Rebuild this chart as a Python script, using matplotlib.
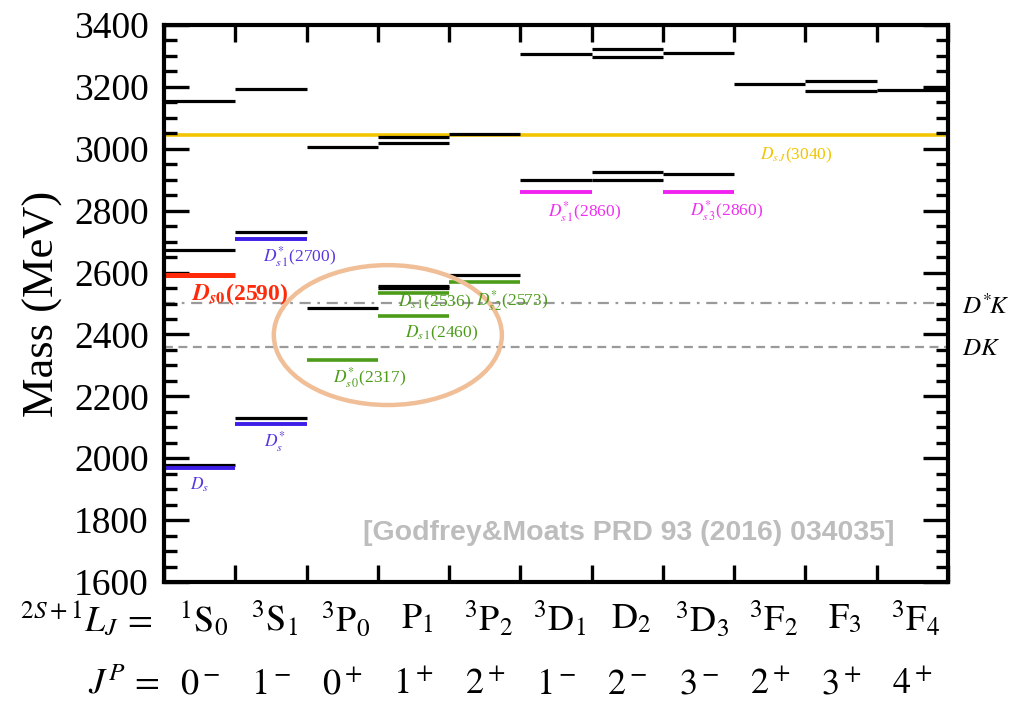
import numpy as np
import matplotlib
matplotlib.use("Agg")
import matplotlib.pyplot as plt
from matplotlib.patches import Ellipse
from matplotlib.ticker import MultipleLocator

plt.rcParams['font.family'] = ['Liberation Serif', 'DejaVu Serif']
plt.rcParams['mathtext.fontset'] = 'stix'

#########################################################################
#  Data
#########################################################################
# spectroscopic labels of the 11 columns
lj_labels = [r'$^1\mathrm{S}_0$', r'$^3\mathrm{S}_1$', r'$^3\mathrm{P}_0$', r'$\mathrm{P}_1$',
             r'$^3\mathrm{P}_2$', r'$^3\mathrm{D}_1$', r'$\mathrm{D}_2$', r'$^3\mathrm{D}_3$',
             r'$^3\mathrm{F}_2$', r'$\mathrm{F}_3$', r'$^3\mathrm{F}_4$']
jp_labels = [r'$0^-$', r'$1^-$', r'$0^+$', r'$1^+$', r'$2^+$', r'$1^-$',
             r'$2^-$', r'$3^-$', r'$2^+$', r'$3^+$', r'$4^+$']

# quark model predictions (MeV), one list per column
pred_levels = [
    [1979, 2673, 3154],
    [2129, 2732, 3193],
    [2484, 3005],
    [2549, 2556, 3018, 3038],
    [2592, 3049],
    [2899, 3306],
    [2900, 2926, 3298, 3323],
    [2917, 3311],
    [3208],
    [3186, 3218],
    [3190],
]

# observed states (MeV)
exp_col = [0, 1, 1, 0, 2, 3, 3, 4, 5, 7]
exp_mass = [1968, 2112, 2708, 2591, 2318, 2460, 2535, 2569, 2859, 2860]
exp_color = ['#3c1ee6', '#3c1ee6', '#3c1ee6', '#ff2a0a', '#4c9c1a', '#4c9c1a',
             '#4c9c1a', '#4c9c1a', '#f022f0', '#f022f0']
exp_lw = [2.8, 2.8, 2.8, 3.6, 2.6, 2.6, 2.6, 2.6, 2.8, 2.8]

dsj_mass = 3044          # D_sJ(3040), drawn across all columns
dk_thr = 2358            # D K threshold
dstk_thr = 2501          # D* K threshold

#########################################################################
#  Plot
#########################################################################
fig = plt.figure(figsize=(10.12, 7.02), dpi=100)
ax = fig.add_axes([0.1621, 0.1709, 0.7747, 0.7935])
ax.set_xlim(0, 11)
ax.set_ylim(1600, 3400)

# thresholds
ax.axhline(dstk_thr, color='#9a9a9a', lw=1.6, ls=(0, (5, 3, 1.2, 3)), zorder=1)
ax.axhline(dk_thr, color='#9a9a9a', lw=1.6, ls=(0, (4, 2.5)), zorder=1)

ax.axhline(dsj_mass, color='#f2c500', lw=2.6, zorder=1.5)

# predicted levels
for i, levels in enumerate(pred_levels):
    for m in levels:
        ax.hlines(m, i, i + 1, color='black', lw=2.3, zorder=2)

# observed levels
for c, m, col, lw in zip(exp_col, exp_mass, exp_color, exp_lw):
    ax.hlines(m, c, c + 1, color=col, lw=lw, zorder=2.5)

# circle the states below / near threshold
ax.add_patch(Ellipse((3.14, 2398), 3.2, 452, fill=False, ec='#f0bf98', lw=3.2, zorder=3))

# state names
blue_t = '#5a36e0'
green_t = '#4c9c1a'
mag_t = '#f030f0'
ax.text(0.38, 2530, r'$\boldsymbol{D}_{\boldsymbol{s}\mathbf{0}}$' + '(2590)', color='#ff2a0a',
        fontsize=17, fontweight='bold', ha='left', va='center', zorder=4)
ax.text(1.39, 2652, r'$D^{*}_{s\,1}$(2700)', color=blue_t, fontsize=12.5, ha='left', va='center', zorder=4)
ax.text(3.28, 2505, r'$D_{s\,1}$(2536)', color=green_t, fontsize=12.5, ha='left', va='center', zorder=4)
ax.text(4.38, 2509, r'$D^{*}_{s\,2}$(2573)', color=green_t, fontsize=12.5, ha='left', va='center', zorder=4)
ax.text(3.38, 2405, r'$D_{s\,1}$(2460)', color=green_t, fontsize=12.5, ha='left', va='center', zorder=4)
ax.text(2.37, 2262, r'$D^{*}_{s\,0}$(2317)', color=green_t, fontsize=12.5, ha='left', va='center', zorder=4)
ax.text(1.40, 2053, r'$D^{*}_{s}$', color=blue_t, fontsize=12.5, ha='left', va='center', zorder=4)
ax.text(0.36, 1913, r'$D_{s}$', color=blue_t, fontsize=12.5, ha='left', va='center', zorder=4)
ax.text(5.39, 2797, r'$D^{*}_{s\,1}$(2860)', color=mag_t, fontsize=12.5, ha='left', va='center', zorder=4)
ax.text(7.38, 2799, r'$D^{*}_{s\,3}$(2860)', color=mag_t, fontsize=12.5, ha='left', va='center', zorder=4)
ax.text(8.36, 2978, r'$D_{s\,J}$(3040)', color='#f2c500', fontsize=12.5, ha='left', va='center', zorder=4)

# threshold names outside the frame
ax.text(11.19, 2490, r'$D^{*}\!K$', fontsize=18, ha='left', va='center', clip_on=False)
ax.text(11.19, 2352, r'$DK$', fontsize=18, ha='left', va='center', clip_on=False)

ax.text(6.52, 1757, '[Godfrey&Moats PRD 93 (2016) 034035]', family='Liberation Sans',
        fontweight='bold', fontsize=20.5, color='#bdbdbd', ha='center', va='center')

# axis styling
for s in ax.spines.values():
    s.set_linewidth(3)
ax.xaxis.set_major_locator(MultipleLocator(1))
ax.yaxis.set_major_locator(MultipleLocator(200))
ax.yaxis.set_minor_locator(MultipleLocator(50))
ax.tick_params(axis='x', which='major', direction='in', top=True, bottom=True,
               length=12, width=2.4, labelbottom=False)
ax.tick_params(axis='y', which='major', direction='in', left=True, right=True,
               length=18, width=2.4, labelsize=27, pad=11)
ax.tick_params(axis='y', which='minor', direction='in', left=True, right=True,
               length=9, width=2.4)
ax.set_ylabel('Mass (MeV)', fontsize=32, labelpad=8)

# quantum numbers under each column
xt = ax.get_xaxis_transform()
for i in range(11):
    ax.text(i + 0.55, -0.068, lj_labels[i], fontsize=26, ha='center', va='center',
            transform=xt, clip_on=False)
    ax.text(i + 0.5, -0.185, jp_labels[i], fontsize=26, ha='center', va='center',
            transform=xt, clip_on=False)
ax.text(-0.17, -0.068, r'$^{2S+1}L_J\,=$', fontsize=26, ha='right', va='center',
        transform=xt, clip_on=False)
ax.text(-0.06, -0.185, r'$J^P\,=$', fontsize=26, ha='right', va='center',
        transform=xt, clip_on=False)

plt.savefig('out.png', dpi=100)
